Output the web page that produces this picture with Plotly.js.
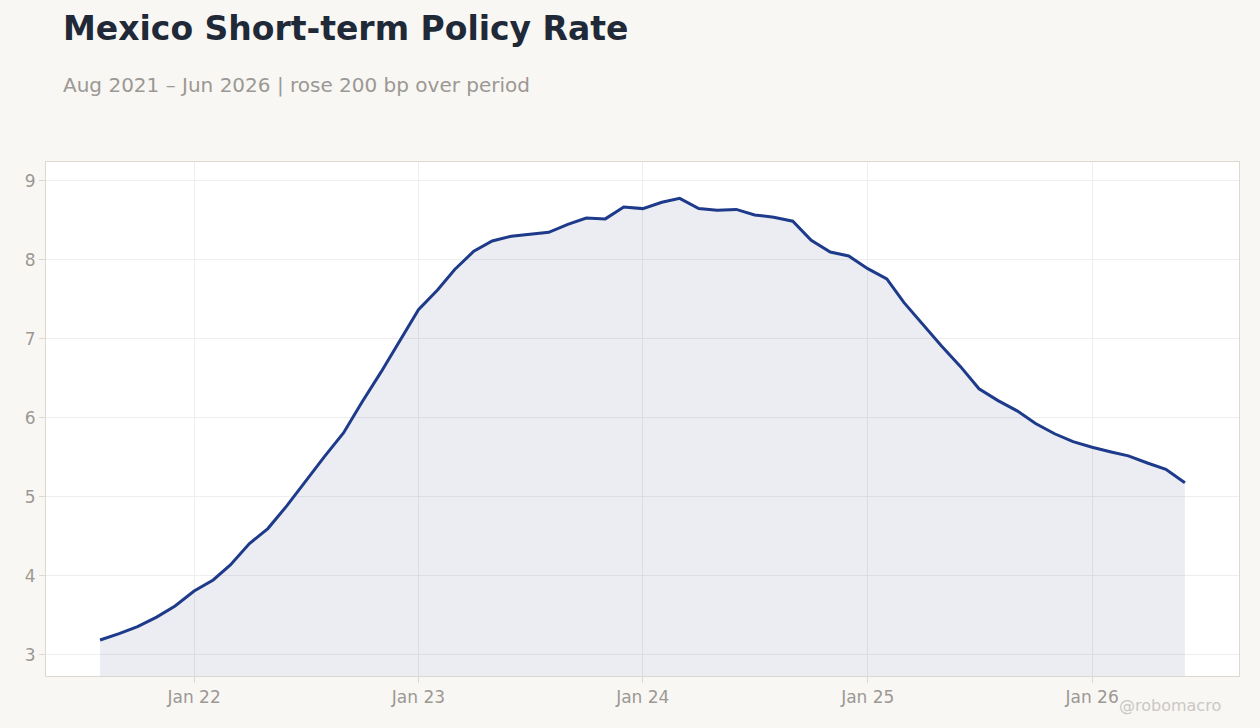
<!DOCTYPE html>
<html>
<head>
<meta charset="utf-8">
<script src="https://cdn.plot.ly/plotly-3.0.1.min.js"></script>
<style>
  html, body { margin: 0; padding: 0; background: #f8f7f4; }
  #chart { width: 1260px; height: 728px; }
</style>
</head>
<body>
<div id="chart"></div>
<script>
// monthly policy rate, Aug 2021 - Jun 2026
var months = [
  '2021-08-01','2021-09-01','2021-10-01','2021-11-01','2021-12-01',
  '2022-01-01','2022-02-01','2022-03-01','2022-04-01','2022-05-01','2022-06-01',
  '2022-07-01','2022-08-01','2022-09-01','2022-10-01','2022-11-01','2022-12-01',
  '2023-01-01','2023-02-01','2023-03-01','2023-04-01','2023-05-01','2023-06-01',
  '2023-07-01','2023-08-01','2023-09-01','2023-10-01','2023-11-01','2023-12-01',
  '2024-01-01','2024-02-01','2024-03-01','2024-04-01','2024-05-01','2024-06-01',
  '2024-07-01','2024-08-01','2024-09-01','2024-10-01','2024-11-01','2024-12-01',
  '2025-01-01','2025-02-01','2025-03-01','2025-04-01','2025-05-01','2025-06-01',
  '2025-07-01','2025-08-01','2025-09-01','2025-10-01','2025-11-01','2025-12-01',
  '2026-01-01','2026-02-01','2026-03-01','2026-04-01','2026-05-01','2026-06-01'
];
var rate = [
  3.19, 3.27, 3.36, 3.48, 3.62,
  3.81, 3.95, 4.14, 4.41, 4.60, 4.89,
  5.20, 5.51, 5.81, 6.20, 6.58, 6.97,
  7.37, 7.62, 7.88, 8.11, 8.24, 8.30,
  8.32, 8.35, 8.45, 8.53, 8.52, 8.67,
  8.65, 8.73, 8.78, 8.65, 8.63, 8.64,
  8.57, 8.54, 8.49, 8.25, 8.10, 8.05,
  7.89, 7.76, 7.46, 7.18, 6.91, 6.65,
  6.37, 6.22, 6.09, 5.93, 5.80, 5.70,
  5.63, 5.57, 5.52, 5.43, 5.35, 5.18
];
var yTicks = [3, 4, 5, 6, 7, 8, 9];

var W = 1260, H = 728;
var plotL = 46, plotR = 1239, plotT = 162, plotB = 676;
function px(x) { return (x - plotL) / (plotR - plotL); }
function py(y) { return (plotB - y) / (plotB - plotT); }

var area = {
  x: months,
  y: rate,
  type: 'scatter',
  mode: 'lines',
  fill: 'tozeroy',
  fillcolor: 'rgba(40,50,110,0.09)',
  line: { color: '#1e3a8a', width: 3 },
  hoverinfo: 'skip'
};

var tickFont = { family: 'DejaVu Sans', size: 17, color: '#9c9893' };

var layout = {
  width: W,
  height: H,
  paper_bgcolor: '#f8f7f4',
  plot_bgcolor: '#ffffff',
  margin: { l: plotL, r: W - plotR, t: plotT, b: H - plotB },
  showlegend: false,
  font: { family: 'DejaVu Sans' },
  xaxis: {
    type: 'date',
    range: ['2021-05-05', '2026-08-28'],
    tickformat: '%b %y',
    dtick: 'M12',
    tick0: '2022-01-01',
    ticks: 'outside',
    ticklen: 6,
    tickcolor: '#ddd8d0',
    tickfont: tickFont,
    gridcolor: '#eeeeee',
    showline: true,
    mirror: true,
    linecolor: '#ddd8d0',
    linewidth: 1,
    zeroline: false
  },
  yaxis: {
    range: [2.734, 9.24],
    tickvals: yTicks,
    ticks: 'outside',
    ticklen: 6,
    tickcolor: '#ddd8d0',
    tickfont: tickFont,
    gridcolor: '#eeeeee',
    showline: true,
    mirror: true,
    linecolor: '#ddd8d0',
    linewidth: 1,
    zeroline: false
  },
  annotations: [
    {
      text: '<b>Mexico Short-term Policy Rate</b>',
      xref: 'paper', yref: 'paper',
      x: px(61), y: py(28),
      xanchor: 'left', yanchor: 'middle',
      showarrow: false,
      font: { family: 'DejaVu Sans', size: 33, color: '#1f2937' }
    },
    {
      text: 'Aug 2021 – Jun 2026 | rose 200 bp over period',
      xref: 'paper', yref: 'paper',
      x: px(61), y: py(85),
      xanchor: 'left', yanchor: 'middle',
      showarrow: false,
      font: { family: 'DejaVu Sans', size: 20, color: '#9c9893' }
    },
    {
      text: '@robomacro',
      xref: 'paper', yref: 'paper',
      x: px(1170), y: py(705),
      xanchor: 'center', yanchor: 'middle',
      showarrow: false,
      font: { family: 'DejaVu Sans', size: 16, color: '#cbc8c4' }
    }
  ]
};

Plotly.newPlot('chart', [area], layout, { staticPlot: true, displayModeBar: false });
</script>
</body>
</html>
